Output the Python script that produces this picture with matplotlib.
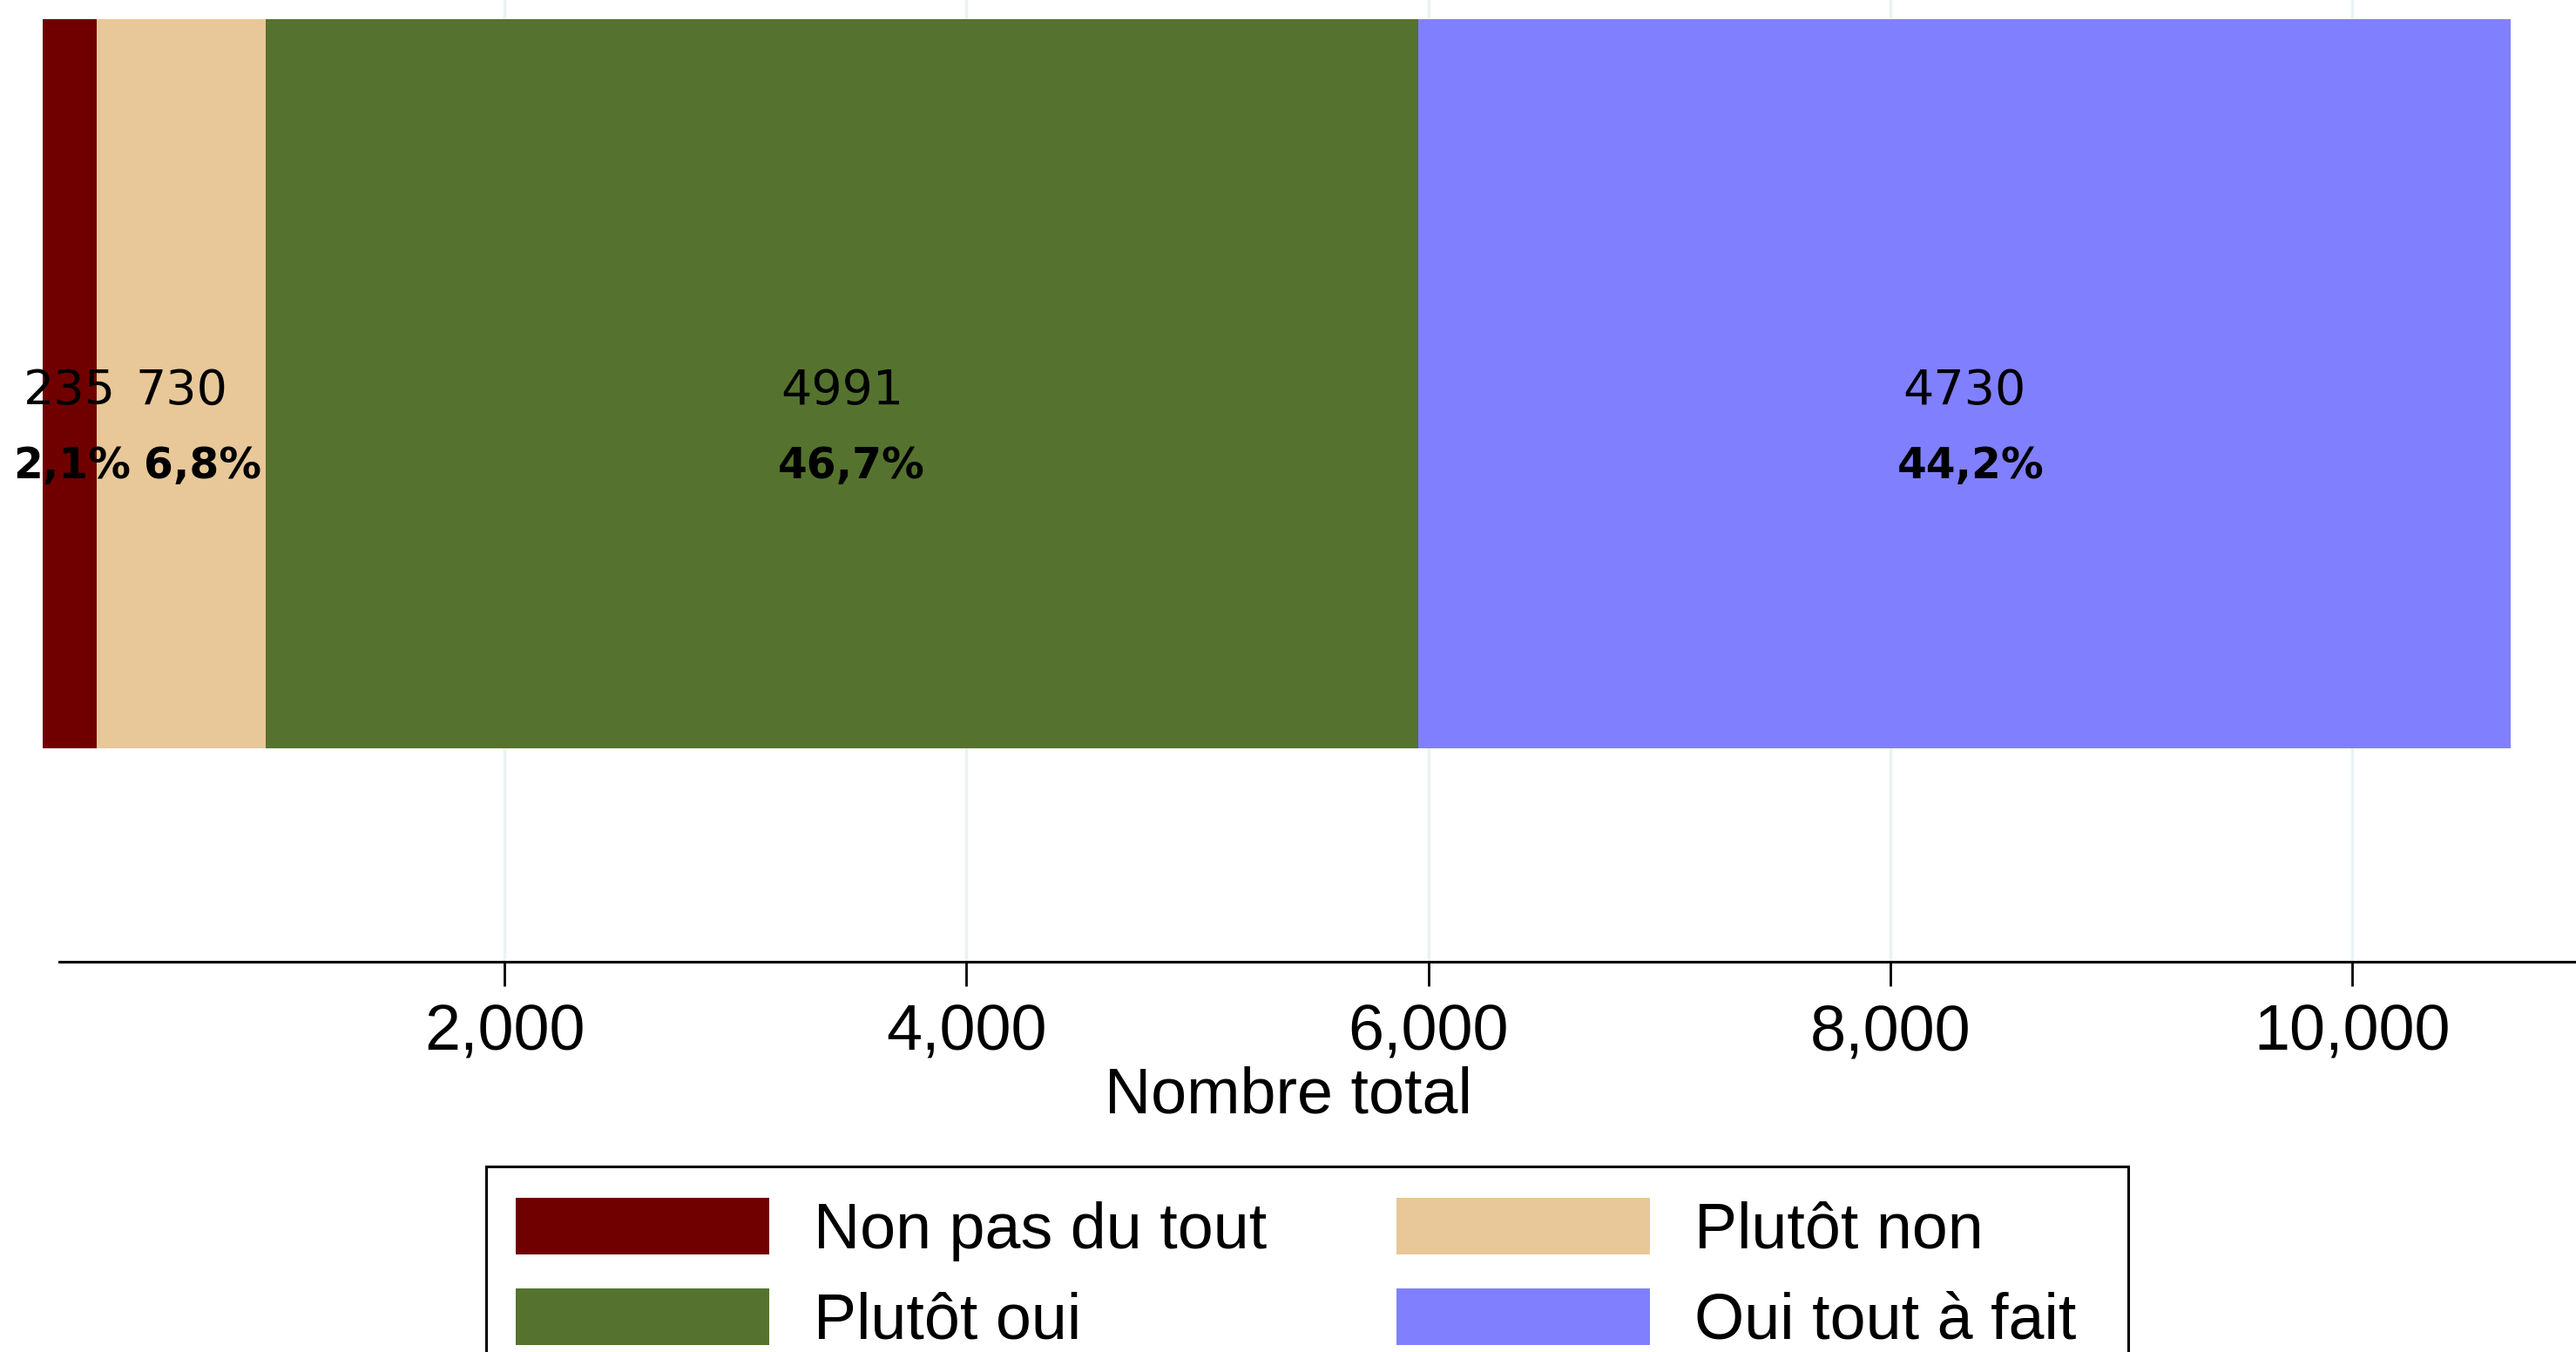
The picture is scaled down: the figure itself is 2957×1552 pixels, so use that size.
import matplotlib
matplotlib.use("Agg")
import matplotlib.pyplot as plt
from matplotlib.patches import Rectangle
from matplotlib.ticker import FuncFormatter

categories = ["Non pas du tout", "Plutôt non", "Plutôt oui", "Oui tout à fait"]
counts = [235, 730, 4991, 4730]
pct_labels = ["2,1%", "6,8%", "46,7%", "44,2%"]
colors = ["#700000", "#E8C898", "#55732E", "#8080FF"]
xticks = [2000, 4000, 6000, 8000, 10000]

# small horizontal nudges (in pixels) for the percent labels so they don't collide
pct_nudge = [2, 24, 11, 7]

W, H = 2957, 1552
fig = plt.figure(figsize=(W / 100, H / 100), dpi=100)

# axes spans full width, from top of image down to the axis line
ax = fig.add_axes([0, (H - 1104) / H, 1, 1104 / H])

px = 0.2651  # pixels per unit
x0 = 49      # pixel position of zero
ax.set_xlim(-x0 / px, (W - x0) / px)
ax.set_ylim(-0.792, 0.526)

handles = []
left = 0
for cat, n, p, c, dx in zip(categories, counts, pct_labels, colors, pct_nudge):
    b = ax.barh(0, n, left=left, height=1, color=c, label=cat, zorder=2)
    handles.append(b)
    mid = left + n / 2
    ax.text(mid, -0.01, str(n), ha="center", va="center", fontsize=40,
            family="DejaVu Sans", zorder=3)
    ax.text(mid + dx / px, -0.113, p, ha="center", va="center", fontsize=35,
            family="DejaVu Sans", fontweight="bold", zorder=3)
    left += n

ax.set_xticks(xticks)
ax.xaxis.set_major_formatter(FuncFormatter(lambda v, pos: f"{int(v):,}"))
ax.tick_params(axis="x", length=20, width=2, pad=14, labelsize=53)
ax.set_yticks([])
for lab in ax.get_xticklabels():
    lab.set_family("Liberation Sans")
ax.grid(axis="x", color="#EAF2F3", linewidth=2.5, zorder=0)
for s in ["top", "left", "right"]:
    ax.spines[s].set_visible(False)
ax.spines["bottom"].set_linewidth(2.2)
ax.spines["bottom"].set_bounds((68 - x0) / px, (W - x0) / px)
ax.set_xlabel("Nombre total", fontsize=53, family="Liberation Sans", labelpad=2)

# legend filled row by row, as in the original; frame drawn separately
order = [0, 2, 1, 3]
leg = fig.legend([handles[i] for i in order], [categories[i] for i in order],
                 loc="upper left", bbox_to_anchor=(592 / W, 1 - 1375 / H),
                 ncol=2, prop={"family": "Liberation Sans", "size": 53},
                 handlelength=3.95, handleheight=0.98,
                 handletextpad=0.69, columnspacing=2.03,
                 labelspacing=0.42, borderpad=0, borderaxespad=0,
                 frameon=False)
fig.patches.append(Rectangle((558 / W, -0.05), (2443 - 558) / W, 0.05 + (H - 1339) / H,
                             transform=fig.transFigure, fill=False,
                             edgecolor="black", linewidth=2.2))

fig.savefig("out.png", dpi=100)
